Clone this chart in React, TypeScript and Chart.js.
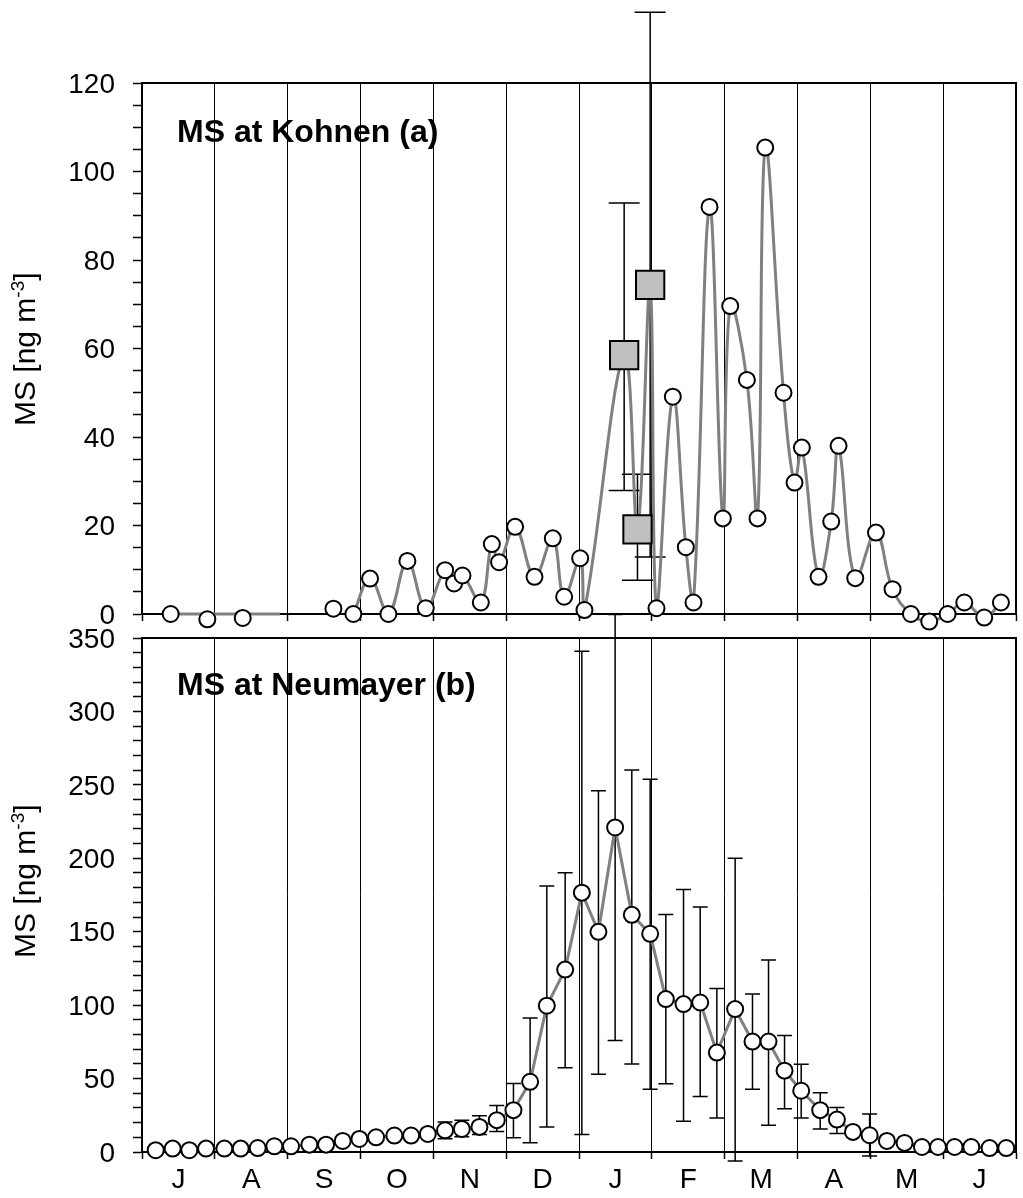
import React, { useEffect, useRef } from 'react';
import { Chart, registerables } from 'chart.js';

Chart.register(...registerables);

// ---------- data ----------
const monthLabels = ['J', 'A', 'S', 'O', 'N', 'D', 'J', 'F', 'M', 'A', 'M', 'J'];

// Kohnen (a): x in month index (0 = start of July), y in ng m-3
const kohnenX = [
  0.394, 0.897, 1.383, 1.895, 2.628, 2.902, 3.131, 3.383, 3.644, 3.896, 4.162, 4.285, 4.4, 4.652,
  4.803, 4.903, 5.123, 5.389, 5.64, 5.796, 6.016, 6.075, 7.064, 7.288, 7.467, 7.572, 7.792, 7.975,
  8.076, 8.305, 8.451, 8.557, 8.808, 8.959, 9.06, 9.289, 9.463, 9.564, 9.793, 10.077, 10.305,
  10.557, 10.809, 11.061, 11.29, 11.564, 11.793,
];
const kohnenY = [
  0, -1.2, -0.9, -2.7, 1.2, 0, 8.0, 0, 12.0, 1.3, 9.9, 6.9, 8.7, 2.6, 15.8, 11.7, 19.7, 8.4, 17.1,
  3.9, 12.6, 0.9, 1.3, 49.1, 15.1, 2.6, 92.0, 21.6, 69.6, 52.9, 21.6, 105.4, 50.0, 29.7, 37.6, 8.4,
  20.9, 38.0, 8.1, 18.4, 5.6, 0, -1.7, 0, 2.6, -0.8, 2.6,
];
// grey squares with error bars
const kohnenSqX = [6.62, 6.803, 6.977];
const kohnenSqY = [58.5, 19.1, 74.4];
const kohnenSqLo = [27.9, 7.6, 12.9];
const kohnenSqHi = [92.9, 31.6, 136.0];
// smoothed grey line (circles + squares in time order; null = break)
const kohnenLineY = [
  0, 0, 0, 0, null, 0, 8.0, 0, 12.0, 1.3, 9.9, 6.9, 8.7, 2.6, 15.8, 11.7, 19.7, 8.4, 17.1, 3.9,
  12.6, 0.9, 58.5, 19.1, 74.4, 1.3, 49.1, 15.1, 2.6, 92.0, 21.6, 69.6, 52.9, 21.6, 105.4, 50.0,
  29.7, 37.6, 8.4, 20.9, 38.0, 8.1, 18.4, 5.6, 0, -1.7, 0, 2.6, -0.8, 2.6,
];

// Neumayer (b)
const neumayerX = [
  0.188, 0.421, 0.65, 0.879, 1.131, 1.355, 1.589, 1.817, 2.046, 2.298, 2.527, 2.756, 2.985, 3.214,
  3.465, 3.695, 3.924, 4.161, 4.391, 4.633, 4.871, 5.1, 5.329, 5.558, 5.81, 6.039, 6.267, 6.496,
  6.725, 6.977, 7.192, 7.435, 7.664, 7.893, 8.144, 8.382, 8.602, 8.822, 9.051, 9.312, 9.541, 9.761,
  9.99, 10.228, 10.47, 10.709, 10.929, 11.157, 11.386, 11.637, 11.866,
];
const neumayerY = [
  1.2, 2.3, 1.2, 2.3, 2.3, 2.3, 2.7, 3.9, 3.9, 5.0, 5.0, 7.5, 8.9, 10.0, 11.2, 11.2, 12.3, 14.8,
  15.7, 17.1, 21.7, 28.5, 47.8, 99.6, 124.2, 176.6, 149.9, 221.0, 161.5, 148.6, 104.1, 100.7,
  101.8, 67.7, 97.3, 75.2, 75.2, 55.4, 41.7, 28.5, 22.1, 13.7, 11.4, 7.5, 6.2, 3.4, 3.4, 3.4, 3.4,
  2.7, 2.7,
];
const neumayerLo = [
  null, null, null, null, null, null, null, null, null, null, null, null, null, null, null, null,
  null, 9.1, 10.3, 11.9, 14.0, 9.7, 6.3, 17.1, 57.4, 11.9, 52.9, 75.9, 59.9, 42.8, 46.5, 21.0,
  37.8, 23.2, -6.2, 42.8, 18.2, 29.4, 23.2, 15.7, 12.6, null, -2.7, null, null, null, null, null,
  null, null, null,
];
const neumayerHi = [
  null, null, null, null, null, null, null, null, null, null, null, null, null, null, null, null,
  null, 20.5, 21.7, 24.6, 31.7, 46.7, 91.2, 181.1, 190.2, 341.0, 246.0, 366.0, 260.2, 253.8,
  161.8, 178.8, 166.8, 111.4, 200.0, 107.6, 130.8, 79.3, 59.7, 40.3, 30.3, null, 25.8, null,
  null, null, null, null, null, null, null,
];

// ---------- helpers ----------
const FONT = '"Liberation Sans", Arial, Helvetica, sans-serif';

const errorBarPlugin = {
  id: 'errorBars',
  beforeDatasetsDraw(chart: any) {
    const ctx = chart.ctx;
    const xs = chart.scales.x;
    const ys = chart.scales.y;
    chart.data.datasets.forEach((ds: any) => {
      if (!ds.errLo) return;
      ctx.save();
      ctx.strokeStyle = '#000';
      ctx.lineWidth = 1.5;
      ds.data.forEach((p: any, i: number) => {
        const lo = ds.errLo[i];
        const hi = ds.errHi[i];
        if (lo == null || hi == null) return;
        const x = xs.getPixelForValue(p.x);
        const yl = ys.getPixelForValue(lo);
        const yh = ys.getPixelForValue(hi);
        const w = ds.capWidth / 2;
        ctx.beginPath();
        ctx.moveTo(x, yl);
        ctx.lineTo(x, yh);
        ctx.moveTo(x - w, yl);
        ctx.lineTo(x + w, yl);
        ctx.moveTo(x - w, yh);
        ctx.lineTo(x + w, yh);
        ctx.stroke();
      });
      ctx.restore();
    });
  },
};

const framePlugin = {
  id: 'frame',
  beforeDatasetsDraw(chart: any) {
    const { ctx, chartArea } = chart;
    ctx.save();
    ctx.strokeStyle = '#000';
    ctx.lineWidth = 2;
    ctx.beginPath();
    ctx.moveTo(chartArea.left, chartArea.top);
    ctx.lineTo(chartArea.right, chartArea.top);
    ctx.lineTo(chartArea.right, chartArea.bottom);
    ctx.stroke();
    ctx.restore();
  },
};

const textPlugin = {
  id: 'panelText',
  afterDraw(chart: any, _args: any, opts: any) {
    const ctx = chart.ctx;
    ctx.save();
    ctx.fillStyle = '#000';
    ctx.textBaseline = 'alphabetic';
    ctx.textAlign = 'left';
    ctx.font = `bold 32px ${FONT}`;
    ctx.fillText(opts.label, opts.labelX, opts.labelY);
    ctx.restore();

    ctx.save();
    ctx.translate(opts.titleX, opts.titleY);
    ctx.rotate(-Math.PI / 2);
    ctx.fillStyle = '#000';
    ctx.textBaseline = 'alphabetic';
    ctx.textAlign = 'left';
    ctx.font = `30px ${FONT}`;
    const main = 'MS [ng m';
    ctx.fillText(main, 0, 0);
    let w = ctx.measureText(main).width;
    ctx.font = `19px ${FONT}`;
    ctx.fillText('-3', w, -11);
    w += ctx.measureText('-3').width;
    ctx.font = `30px ${FONT}`;
    ctx.fillText(']', w, 0);
    ctx.restore();
  },
};

const isInt = (v: number) => Math.abs(v - Math.round(v)) < 1e-9;

function xScale(showLabels: boolean, height: number) {
  return {
    type: 'linear',
    min: 0,
    max: 12,
    ticks: {
      stepSize: 0.5,
      autoSkip: false,
      maxRotation: 0,
      display: showLabels,
      padding: 4,
      color: '#000',
      font: { family: FONT, size: 28 },
      callback: (v: number) => (isInt(v) ? '' : monthLabels[Math.floor(v)] ?? ''),
    },
    grid: {
      color: (c: any) => (c.tick && isInt(c.tick.value) ? '#000' : 'rgba(0,0,0,0)'),
      tickColor: (c: any) => (c.tick && isInt(c.tick.value) ? '#000' : 'rgba(0,0,0,0)'),
      lineWidth: 1,
      tickWidth: 1.5,
      drawTicks: true,
      tickLength: 7,
    },
    border: { display: true, color: '#000', width: 2 },
    afterFit: (s: any) => {
      s.height = height;
    },
  };
}

function yScale(max: number, step: number, every: number) {
  return {
    type: 'linear',
    min: 0,
    max,
    ticks: {
      stepSize: step,
      autoSkip: false,
      padding: 18,
      labelOffset: 2,
      color: '#000',
      font: { family: FONT, size: 28 },
      callback: (v: number) => (Math.abs(v % every) < 1e-9 ? String(v) : ''),
    },
    grid: {
      drawOnChartArea: false,
      drawTicks: true,
      tickLength: 9,
      tickColor: '#000',
      tickWidth: 1.5,
    },
    border: { display: true, color: '#000', width: 2 },
    afterFit: (s: any) => {
      s.width = 142;
    },
  };
}

const pts = (xs: number[], ys: (number | null)[]) => xs.map((x, i) => ({ x, y: ys[i] }));

function kohnenConfig(): any {
  const lineX = [...kohnenX, ...kohnenSqX].sort((a, b) => a - b);
  return {
    type: 'scatter',
    data: {
      datasets: [
        {
          data: pts(kohnenX, kohnenY),
          showLine: false,
          pointRadius: 8,
          pointBackgroundColor: '#fff',
          pointBorderColor: '#000',
          pointBorderWidth: 2,
          clip: false,
          order: 0,
        },
        {
          data: pts(kohnenSqX, kohnenSqY),
          showLine: false,
          pointStyle: 'rect',
          pointRadius: 20,
          pointBackgroundColor: '#c0c0c0',
          pointBorderColor: '#000',
          pointBorderWidth: 2,
          clip: false,
          order: 1,
          errLo: kohnenSqLo,
          errHi: kohnenSqHi,
          capWidth: 31,
        },
        {
          type: 'line',
          data: pts(lineX, kohnenLineY),
          borderColor: '#808080',
          borderWidth: 3,
          pointRadius: 0,
          tension: 0.4,
          spanGaps: false,
          clip: false,
          order: 2,
        },
      ],
    },
    options: {
      responsive: false,
      animation: false,
      devicePixelRatio: 1,
      layout: { autoPadding: false, padding: { left: 0, right: 7, top: 83, bottom: 36 } },
      plugins: {
        legend: { display: false },
        tooltip: { enabled: false },
        panelText: {
          label: 'MS at Kohnen (a)',
          labelX: 177,
          labelY: 142,
          titleX: 35,
          titleY: 426,
        },
      },
      scales: { x: xScale(false, 10), y: yScale(120, 5, 20) },
    },
    plugins: [framePlugin, errorBarPlugin, textPlugin],
  };
}

function neumayerConfig(): any {
  return {
    type: 'scatter',
    data: {
      datasets: [
        {
          data: pts(neumayerX, neumayerY),
          showLine: false,
          pointRadius: 8,
          pointBackgroundColor: '#fff',
          pointBorderColor: '#000',
          pointBorderWidth: 2,
          clip: false,
          order: 0,
          errLo: neumayerLo,
          errHi: neumayerHi,
          capWidth: 15,
        },
        {
          type: 'line',
          data: pts(neumayerX, neumayerY),
          borderColor: '#808080',
          borderWidth: 3,
          pointRadius: 0,
          tension: 0,
          clip: false,
          order: 2,
        },
      ],
    },
    options: {
      responsive: false,
      animation: false,
      devicePixelRatio: 1,
      layout: { autoPadding: false, padding: { left: 0, right: 7, top: 78, bottom: 0 } },
      plugins: {
        legend: { display: false },
        tooltip: { enabled: false },
        panelText: {
          label: 'MS at Neumayer (b)',
          labelX: 177,
          labelY: 135,
          titleX: 35,
          titleY: 398,
        },
      },
      scales: { x: xScale(true, 46), y: yScale(350, 10, 50) },
    },
    plugins: [framePlugin, errorBarPlugin, textPlugin],
  };
}

function ChartCanvas({ top, height, make }: { top: number; height: number; make: () => any }) {
  const ref = useRef<HTMLCanvasElement | null>(null);
  useEffect(() => {
    if (!ref.current) return;
    const chart = new Chart(ref.current, make());
    return () => chart.destroy();
  }, []);
  return (
    <canvas
      ref={ref}
      width={1023}
      height={height}
      style={{ position: 'absolute', left: 0, top, width: 1023, height }}
    />
  );
}

export default function App() {
  return (
    <div
      style={{
        position: 'absolute',
        left: 0,
        top: 0,
        width: 1023,
        height: 1198,
        background: '#fff',
        overflow: 'hidden',
      }}
    >
      <ChartCanvas top={0} height={660} make={kohnenConfig} />
      <ChartCanvas top={560} height={638} make={neumayerConfig} />
    </div>
  );
}
